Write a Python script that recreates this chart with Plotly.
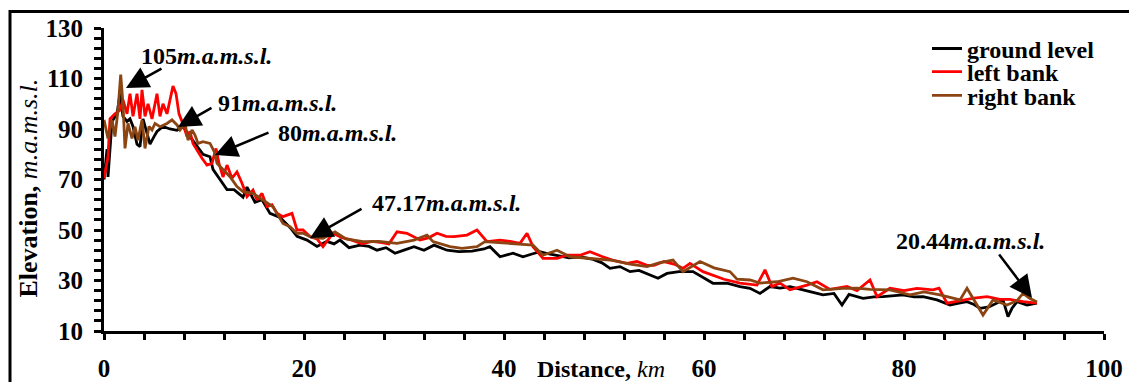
import plotly.graph_objects as go

# ---------------- data ----------------
ground_x = [
    0, 0.3, 0.4, 0.8, 1.3, 1.6, 1.9, 2.3, 2.6, 2.9,
    3.3, 3.6, 3.9, 4.3, 4.6, 5.0, 5.3, 5.9, 6.6, 7.3,
    7.9, 8.6, 9.3, 9.9, 10.6, 10.9, 11.6, 12.3, 13.0, 13.9,
    14.3, 15.1, 15.8, 16.6, 17.6, 18.6, 19.3, 20.3, 21.3, 22.3,
    23.0, 23.6, 24.5, 25.6, 26.5, 27.3, 28.2, 29.1, 30.0, 31.0,
    32.0, 33.0, 34.3, 35.5, 36.8, 38.0, 38.6, 39.6, 40.9, 41.9,
    42.8, 43.6, 44.5, 45.3, 46.5, 47.6, 48.8, 49.8, 50.6, 51.6,
    52.6, 53.5, 54.3, 55.4, 56.3, 57.5, 58.9, 60.0, 60.9, 62.3,
    63.6, 64.6, 65.6, 66.6, 67.6, 68.6, 69.6, 70.6, 71.9, 73.0,
    73.8, 74.5, 75.9, 77.0, 77.9, 79.0, 79.9, 81.0, 81.9, 83.3,
    84.6, 85.5, 86.3, 87.0, 87.6, 88.5, 89.3, 89.9, 90.4, 90.8,
    91.3, 92.3, 93.3,
]
ground_y = [
    70, 82, 71, 93, 96, 104, 95, 93, 94, 91,
    84, 83, 94, 88, 84, 87, 89, 91, 90, 89.5,
    91, 87, 83, 80, 79, 74, 70, 66, 66, 63,
    67, 61, 62, 56.6, 55, 51, 47.5, 46, 43.5, 45.5,
    44.5, 46, 43, 44, 43.5, 42, 43, 40.8, 42, 43.4,
    42, 44, 42, 41.4, 41.6, 42.5, 43.4, 39.4, 40.8, 39.4,
    40.5, 41.4, 40.5, 40, 39, 39.4, 38.5, 37, 34.8, 35.5,
    33.5, 34, 32.8, 30.9, 32.8, 33.5, 33.5, 31, 28.9, 29,
    27.6, 26.9, 24.9, 27.6, 27, 27.6, 26.5, 25.6, 24.3, 24.9,
    20.3, 24.5, 22.9, 23.5, 23.6, 24, 24.3, 23.5, 23.6, 22.3,
    20.3, 21, 21.6, 20.5, 19, 19.5, 21, 22.3, 15.7, 19,
    21.6, 20.3, 21,
]

left_x = [
    0, 0.4, 0.6, 1.1, 1.6, 1.9, 2.3, 2.6, 2.9, 3.3,
    3.6, 3.8, 4.1, 4.4, 4.8, 5.3, 5.6, 5.9, 6.3, 6.6,
    6.9, 7.2, 7.5, 7.9, 8.3, 8.6, 8.9, 9.3, 9.8, 10.3,
    10.8, 11.2, 11.5, 11.9, 12.3, 12.8, 13.3, 13.8, 14.3, 14.9,
    15.3, 15.8, 16.3, 16.8, 17.3, 17.9, 18.4, 18.8, 19.3, 19.9,
    20.6, 21.3, 21.9, 22.9, 23.8, 24.8, 25.8, 26.8, 27.8, 28.5,
    29.3, 30.3, 31.6, 32.5, 33.3, 34.2, 35.0, 36.3, 37.3, 38.3,
    39.6, 40.6, 41.6, 42.3, 42.9, 43.9, 45.3, 46.3, 47.6, 48.6,
    49.8, 50.9, 52.3, 53.3, 54.3, 55.0, 56.0, 57.0, 57.9, 58.6,
    59.9, 61.0, 62.0, 63.6, 65.3, 66.1, 66.8, 67.6, 68.6, 70.3,
    71.3, 72.6, 74.3, 75.3, 76.6, 77.3, 78.6, 80.0, 81.3, 82.9,
    83.5, 84.3, 85.9, 87.0, 88.3, 89.6, 90.6, 91.9, 93.3,
]
left_y = [
    70.5, 79, 94, 96, 97.5, 101.5, 96, 104, 95, 104,
    94, 105.5, 95, 100, 94, 104, 95, 100, 96, 101.5,
    107, 104, 96, 92, 87, 89, 84.3, 81.7, 78.4, 75.7,
    76.4, 82.3, 76.4, 71, 75.7, 70.5, 73, 68.5, 63.2, 65.8,
    61.9, 64.5, 59.2, 60, 56.6, 55.3, 55.9, 56.6, 50, 50,
    47.4, 46.5, 43.4, 48.7, 47, 46, 44.5, 45.5, 45, 44.5,
    49.3, 48.7, 46, 47, 48.7, 47.5, 47.4, 48, 50, 45.4,
    46, 45.5, 44.7, 48.7, 43.4, 38.8, 38.8, 40, 40, 41.4,
    39.5, 38, 36.8, 37.5, 36, 36, 37.5, 36.5, 34.8, 36.8,
    33.5, 32, 30.5, 29, 28.2, 34.2, 27.6, 29, 26.3, 28.2,
    29.5, 26.5, 27.6, 26, 30.2, 23.6, 26.9, 26, 26.9, 26.3,
    27, 21, 22.3, 23, 23.6, 22.5, 22.5, 21.6, 21,
]

right_x = [
    0, 0.4, 0.8, 1.1, 1.4, 1.67, 1.9, 2.1, 2.4, 2.8,
    3.1, 3.4, 3.8, 4.1, 4.5, 4.8, 5.1, 5.6, 6.3, 6.8,
    7.3, 7.6, 8.1, 8.4, 8.8, 9.1, 9.4, 9.9, 10.6, 11.1,
    11.3, 11.9, 12.6, 13.3, 13.9, 14.9, 15.9, 16.9, 17.9, 18.6,
    19.3, 19.9, 20.8, 21.9, 23.1, 24.2, 25.9, 27.5, 29.3, 31.0,
    32.3, 32.9, 34.6, 35.8, 37.3, 38.1, 39.5, 40.9, 42.9, 43.9,
    45.3, 46.6, 48.9, 50.9, 52.6, 54.3, 55.5, 56.9, 57.9, 59.6,
    61.0, 62.6, 63.3, 64.6, 65.6, 67.3, 68.9, 70.3, 71.9, 73.9,
    75.3, 76.6, 78.6, 80.6, 82.0, 83.6, 85.6, 86.3, 87.9, 88.9,
    90.3, 91.3, 91.9, 92.6, 93.3,
]
right_y = [
    93.6, 86.3, 93.6, 87, 97.5, 111.5, 100, 82.3, 92.2, 86.3,
    90.9, 85.6, 93.6, 82.3, 91, 89.6, 92.2, 90.9, 92.2, 93.6,
    91.6, 89.6, 92.2, 85.6, 89.6, 87.6, 84.3, 85, 84.3, 80.4,
    76.4, 73.8, 71.1, 67.2, 65.2, 64.5, 61.9, 59.2, 52.6, 51.3,
    48.7, 48.7, 47, 46.7, 49.3, 46.5, 45.4, 45.5, 44.7, 46,
    48, 45.4, 43.4, 42.7, 43.4, 45.4, 45, 44.7, 44, 40,
    42, 39.4, 38.8, 38, 36.5, 35.5, 37, 38.1, 33.5, 37.5,
    35, 33.5, 30.5, 30.2, 29, 29.5, 30.9, 29.5, 26.3, 26.9,
    27, 26.5, 26.3, 24.3, 25.5, 24.3, 22.3, 26.9, 16.3, 22.3,
    20.3, 22, 24.9, 22.9, 21.5,
]

series_names = ["ground level", "left bank", "right bank"]
series_colors = ["#000000", "#FF0000", "#8B4513"]

x_ticks = [0, 20, 40, 60, 80, 100]
y_ticks = [10, 30, 50, 70, 90, 110, 130]

# annotation labels: (label value, arrow head x,y ; arrow tail x,y ; text x,y)
label_values = ["105", "91", "80", "47.17", "20.44"]
arrow_heads = [(2.2, 106.2), (7.4, 90.8), (11.1, 79.7), (20.6, 46.8), (92.8, 23.1)]
arrow_tails = [(5.9, 114.2), (10.9, 98.7), (16.6, 88.8), (25.9, 58.7), (89.4, 40.9)]
label_pos = [(10.2, 118.9), (17.3, 100.3), (23.3, 88.4), (34.2, 60.7), (86.6, 45.6)]

# ---------------- figure ----------------
FONT = "Liberation Serif"
fig = go.Figure()

legend_ids = ["legend", "legend2", "legend3"]
for name, xs, ys, color, lg in zip(series_names, [ground_x, left_x, right_x],
                                   [ground_y, left_y, right_y], series_colors, legend_ids):
    fig.add_trace(go.Scatter(x=xs, y=ys, mode="lines", name=name,
                             line=dict(color=color, width=2.8), legend=lg))

legend_y = [0.931, 0.855, 0.776]
legend_common = dict(x=0.823, xanchor="left", yanchor="middle", bgcolor="rgba(0,0,0,0)",
                     font=dict(family=FONT, size=24, color="black", weight="bold"),
                     itemwidth=30, borderwidth=0)

axis_common = dict(showgrid=False, zeroline=False, showline=True, linewidth=3,
                   linecolor="black", ticks="outside", tickwidth=3, tickcolor="black",
                   tickfont=dict(family=FONT, size=25, color="black", weight="bold"),
                   mirror=False, automargin=False)

# the page body has an 8px margin; margins below compensate for it
fig.update_layout(
    width=1137, height=382,
    margin=dict(l=96, r=41, t=20, b=59),
    paper_bgcolor="white", plot_bgcolor="white",
    showlegend=True,
    legend=dict(y=legend_y[0], **legend_common),
    legend2=dict(y=legend_y[1], **legend_common),
    legend3=dict(y=legend_y[2], **legend_common),
    xaxis=dict(range=[0, 100], tickvals=x_ticks, ticklen=6,
               minor=dict(dtick=4, tick0=0, ticks="outside", ticklen=6, tickwidth=3, tickcolor="black"),
               ticklabelstandoff=7, **axis_common),
    yaxis=dict(range=[10, 130], tickvals=y_ticks, ticklen=7,
               minor=dict(dtick=4, tick0=10, ticks="outside", ticklen=7, tickwidth=3, tickcolor="black"),
               ticklabelstandoff=6, **axis_common),
)

annotations = []
for (hx, hy), (tx, ty) in zip(arrow_heads, arrow_tails):
    annotations.append(dict(x=hx, y=hy, ax=tx, ay=ty, xref="x", yref="y", axref="x", ayref="y",
                            text="", showarrow=True, arrowhead=2, arrowsize=1.8,
                            arrowwidth=2.5, arrowcolor="black", standoff=0))
for val, (lx, ly) in zip(label_values, label_pos):
    annotations.append(dict(x=lx, y=ly, xref="x", yref="y", showarrow=False,
                            text=f"<b>{val}<i>m.a.m.s.l.</i></b>", xanchor="center", yanchor="middle",
                            font=dict(family=FONT, size=24, color="black")))
# axis titles
annotations.append(dict(x=0.497, y=-0.126, xref="paper", yref="paper", showarrow=False,
                        text="<b>Distance,</b> <i>km</i>", xanchor="center", yanchor="middle",
                        font=dict(family=FONT, size=24, color="black")))
annotations.append(dict(x=-0.075, y=0.47, xref="paper", yref="paper", showarrow=False,
                        text="<b>Elevation,</b> <i>m.a.m.s.l.</i>", textangle=-90,
                        xanchor="center", yanchor="middle",
                        font=dict(family=FONT, size=26, color="black")))
fig.update_layout(annotations=annotations)

# outer frame of the figure
fig.add_shape(type="rect", xref="paper", yref="paper", x0=-0.094, x1=1.2, y0=-0.5, y1=1.0545,
              line=dict(color="black", width=3), fillcolor="rgba(0,0,0,0)", layer="above")

fig.write_html("out.html")
